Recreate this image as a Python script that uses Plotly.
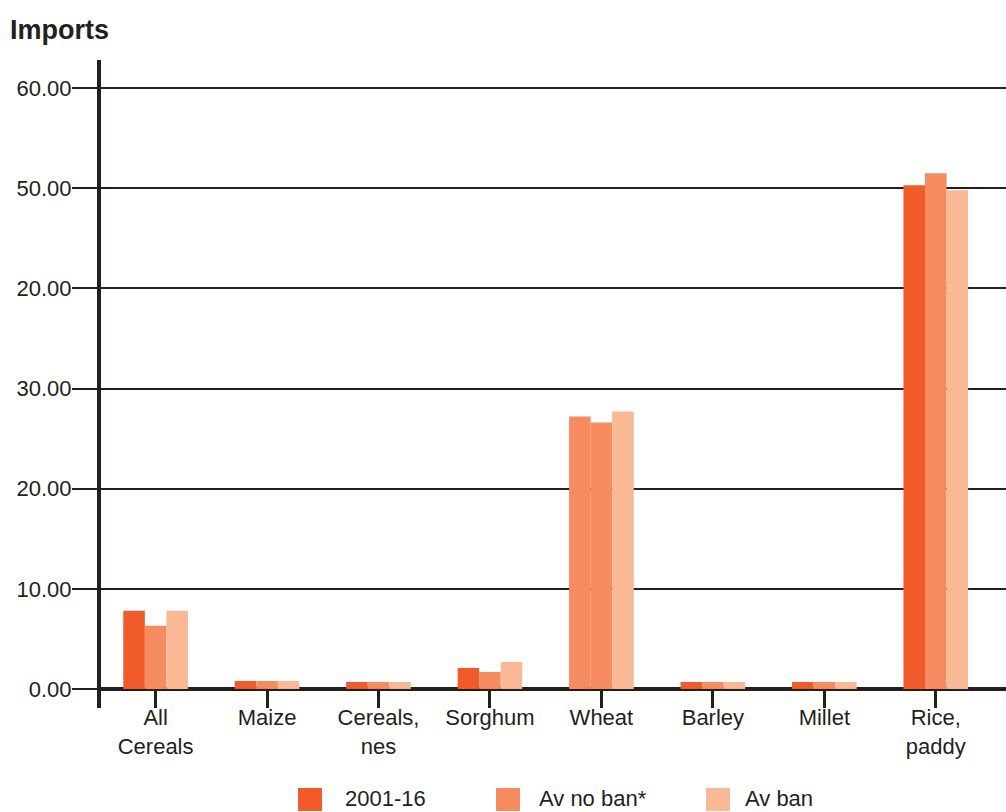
import plotly.graph_objects as go

categories = ["All<br>Cereals", "Maize", "Cereals,<br>nes", "Sorghum", "Wheat", "Barley", "Millet", "Rice,<br>paddy"]
series_names = ["2001-16", "Av no ban*", "Av ban"]
v_2001_16 = [7.8, 0.8, 0.7, 2.1, 27.2, 0.7, 0.7, 50.3]
v_av_no_ban = [6.3, 0.8, 0.7, 1.7, 26.6, 0.7, 0.7, 51.5]
v_av_ban = [7.8, 0.8, 0.7, 2.7, 27.7, 0.7, 0.7, 49.8]
tick_vals = [0, 10, 20, 30, 40, 50, 60]
tick_text = ["0.00", "10.00", "20.00", "30.00", "20.00", "50.00", "60.00"]

colors = ["#F15A2A", "#F68B5F", "#F9B995"]
# Wheat's first bar is drawn in the middle colour in the reference
first_colors = [colors[0]] * len(categories)
first_colors[4] = colors[1]

W, H = 1006, 812
L, R, T, B = 101, 0, 60, 104
plot_w = W - L - R
plot_h = H - T - B

fig = go.Figure()
all_vals = [v_2001_16, v_av_no_ban, v_av_ban]
for i, (name, vals) in enumerate(zip(series_names, all_vals)):
    fig.add_trace(go.Bar(
        x=list(range(len(categories))), y=vals, name=name,
        marker=dict(color=first_colors if i == 0 else colors[i], line=dict(width=0)),
        showlegend=False,
    ))

fig.update_layout(
    width=W, height=H,
    margin=dict(l=L, r=R, t=T, b=B),
    plot_bgcolor="white", paper_bgcolor="white",
    barmode="group", bargap=0.42, bargroupgap=0,
    font=dict(family="Liberation Sans, Arial, sans-serif", size=22, color="#231f20"),
    title=dict(text="<b>Imports</b>", x=10 / W, xref="container", xanchor="left",
               y=1 - 30 / H, yref="container", yanchor="middle",
               font=dict(size=27, color="#231f20")),
    xaxis=dict(
        tickmode="array", tickvals=list(range(len(categories))), ticktext=categories,
        range=[-0.49, 7.63], showgrid=False, showline=False, zeroline=False,
        ticks="inside", ticklen=19, tickwidth=3, tickcolor="#231f20",
        tickson="boundaries", fixedrange=True, ticklabelstandoff=-6,
    ),
    yaxis=dict(
        range=[-1.9, 62.8], tickmode="array", tickvals=tick_vals, ticktext=tick_text,
        showgrid=True, gridcolor="#231f20", gridwidth=2,
        zeroline=True, zerolinecolor="#231f20", zerolinewidth=4,
        showline=True, linecolor="#231f20", linewidth=4,
        ticks="outside", ticklen=25, tickwidth=2, tickcolor="#231f20",
        ticklabelstandoff=-4,
    ),
)

# Legend drawn as squares + labels below the chart
def px_to_paper_x(px):
    return (px - L) / plot_w

def px_to_paper_y(py):
    return (H - B - py) / plot_h

legend_sq_x = [298, 496, 706]
legend_txt_x = [343, 537, 743]
for i, name in enumerate(series_names):
    fig.add_shape(type="rect", xref="paper", yref="paper",
                  x0=px_to_paper_x(legend_sq_x[i]), x1=px_to_paper_x(legend_sq_x[i] + 24),
                  y0=px_to_paper_y(811), y1=px_to_paper_y(788),
                  fillcolor=colors[i], line=dict(width=0))
    fig.add_annotation(text=name, xref="paper", yref="paper",
                       x=px_to_paper_x(legend_txt_x[i]), y=px_to_paper_y(798),
                       xanchor="left", yanchor="middle", showarrow=False,
                       font=dict(size=22, color="#231f20"))

fig.write_html("out.html")
